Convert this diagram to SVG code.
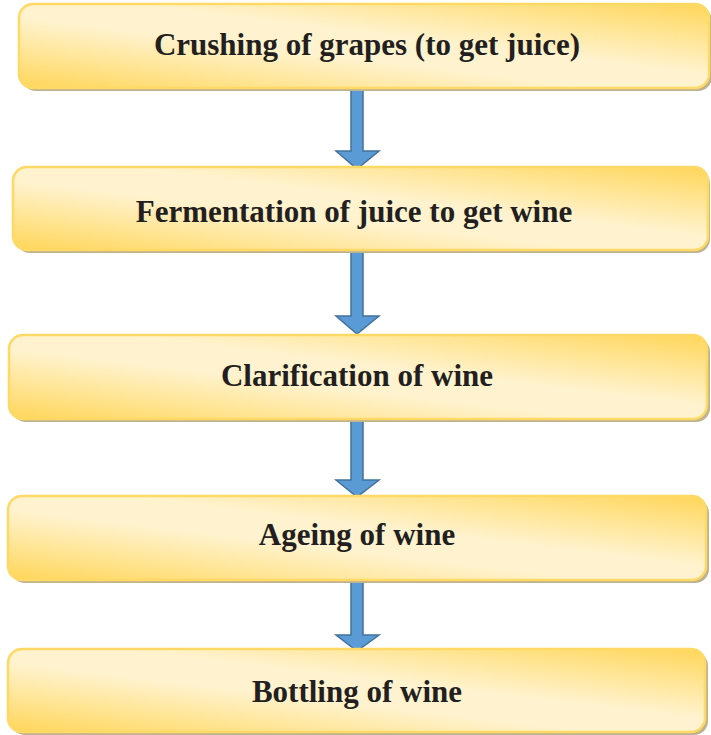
<svg xmlns="http://www.w3.org/2000/svg" width="711" height="735" viewBox="0 0 711 735">
<style>
.box{fill:url(#g);stroke:#FFD966;stroke-width:2.5}
.sh{fill:#BFB28F}
.t{font-family:'Liberation Serif','DejaVu Serif',serif;font-weight:bold;font-size:31px;fill:#231F20;text-anchor:middle}
.arr{fill:#5B9BD5;stroke:#41719C;stroke-width:1.5;stroke-linejoin:miter}
</style>
<defs>
<linearGradient id="g" x1="0" y1="1" x2="1" y2="0">
<stop offset="0" stop-color="#FFD659"/>
<stop offset="0.42" stop-color="#FFF3CF"/>
<stop offset="0.58" stop-color="#FFF3CF"/>
<stop offset="1" stop-color="#FFD659"/>
</linearGradient>
</defs>
<g id="connectors">
<path class="arr" d="M351,86 H363 V151 H379 L357,169 L336,151 H351 Z"/>
<path class="arr" d="M351,252 H363 V316 H379 L357,334 L336,316 H351 Z"/>
<path class="arr" d="M351,421 H363 V480 H379 L357,497 L336,480 H351 Z"/>
<path class="arr" d="M351,581 H363 V635 H379 L357,651 L336,635 H351 Z"/>
</g>
<g id="node1">
<rect class="sh" x="22" y="7" width="690" height="84" rx="14"/>
<rect class="box" x="19" y="4" width="690" height="84" rx="14"/>
<text class="t" x="367" y="55" font-family="Liberation Serif, serif">Crushing of grapes (to get juice)</text>
</g>
<g id="node2">
<rect class="sh" x="16" y="170" width="694" height="83" rx="14"/>
<rect class="box" x="13" y="167" width="695" height="83" rx="14"/>
<text class="t" x="354" y="222" font-family="Liberation Serif, serif">Fermentation of juice to get wine</text>
</g>
<g id="node3">
<rect class="sh" x="12" y="338" width="698" height="84" rx="14"/>
<rect class="box" x="9" y="335" width="698" height="84" rx="14"/>
<text class="t" x="357" y="386" font-family="Liberation Serif, serif">Clarification of wine</text>
</g>
<g id="node4">
<rect class="sh" x="11" y="499" width="698" height="84" rx="14"/>
<rect class="box" x="8" y="496" width="698" height="84" rx="14"/>
<text class="t" x="357" y="545" font-family="Liberation Serif, serif">Ageing of wine</text>
</g>
<g id="node5">
<rect class="sh" x="11" y="652" width="697" height="83" rx="14"/>
<rect class="box" x="8" y="649" width="697" height="83" rx="14"/>
<text class="t" x="357" y="702" font-family="Liberation Serif, serif">Bottling of wine</text>
</g>
</svg>
